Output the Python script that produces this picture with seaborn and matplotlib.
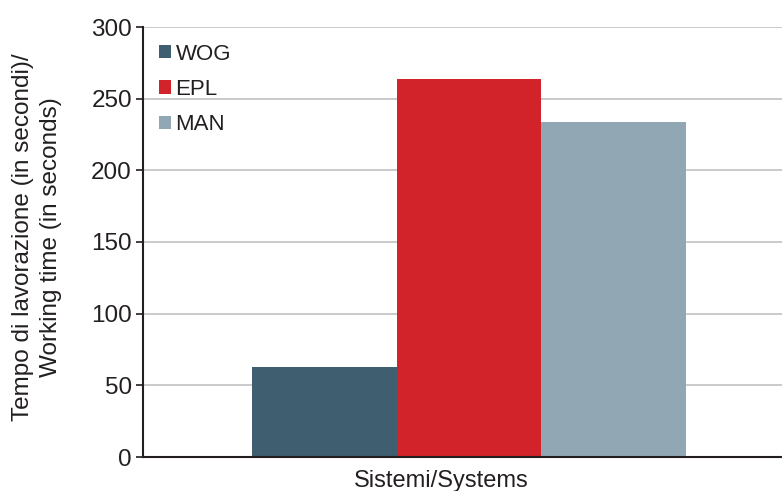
import matplotlib
matplotlib.use("Agg")
import matplotlib.pyplot as plt
import seaborn as sns
import pandas as pd

# Data
categories = ["Sistemi/Systems"]
systems = ["WOG", "EPL", "MAN"]
working_time = [62.5, 263.5, 234]
colors = ["#3f5e6f", "#d2232a", "#91a8b4"]
y_ticks = [0, 50, 100, 150, 200, 250, 300]

df = pd.DataFrame({
    "cat": categories * len(systems),
    "system": systems,
    "time": working_time,
})

sns.set_theme(style="white")
plt.rcParams["font.family"] = ["Liberation Sans", "DejaVu Sans"]

fig = plt.figure(figsize=(7.82, 4.91), dpi=100)
ax = fig.add_axes([143 / 782, 1 - 457 / 491, 1 - 143 / 782, 430 / 491])

sns.barplot(data=df, x="cat", y="time", hue="system", hue_order=systems,
            palette=colors, ax=ax, width=0.8, saturation=1, linewidth=0,
            edgecolor="none", zorder=3)

ax.set_ylim(0, 300)
ax.set_yticks(y_ticks)
ax.set_xlim(-0.601, 0.577)
ax.yaxis.grid(True, color="#c6c6c8", linewidth=1.3, zorder=0)
ax.xaxis.grid(False)
ax.set_axisbelow(True)

for s in ["top", "right"]:
    ax.spines[s].set_visible(False)
for s in ["left", "bottom"]:
    ax.spines[s].set_color("#231f20")
    ax.spines[s].set_linewidth(1.5)
    ax.spines[s].set_zorder(5)

ax.tick_params(axis="y", left=True, length=5, width=1.2, color="#231f20",
               labelsize=17.5, labelcolor="#231f20", pad=3)
ax.set_xticks([])
ax.set_xlabel("Sistemi/Systems", fontsize=17, color="#231f20")
ax.xaxis.set_label_coords((441 - 143) / 639, -0.03)
ax.xaxis.label.set_va("top")
ax.set_ylabel("")

fig.text(37 / 782, 1 - 237 / 491,
         "Tempo di lavorazione (in secondi)/\nWorking time (in seconds)",
         rotation=90, ha="center", va="center", fontsize=17.5, color="#231f20",
         multialignment="center", linespacing=1.3)

leg = ax.legend(frameon=False, loc="upper left", bbox_to_anchor=(0.011, 0.982),
                borderaxespad=0, handlelength=0.55, handleheight=0.55,
                handletextpad=0.2, labelspacing=0.64, fontsize=16)
for t in leg.get_texts():
    t.set_color("#231f20")

fig.savefig("out.png", dpi=100)
